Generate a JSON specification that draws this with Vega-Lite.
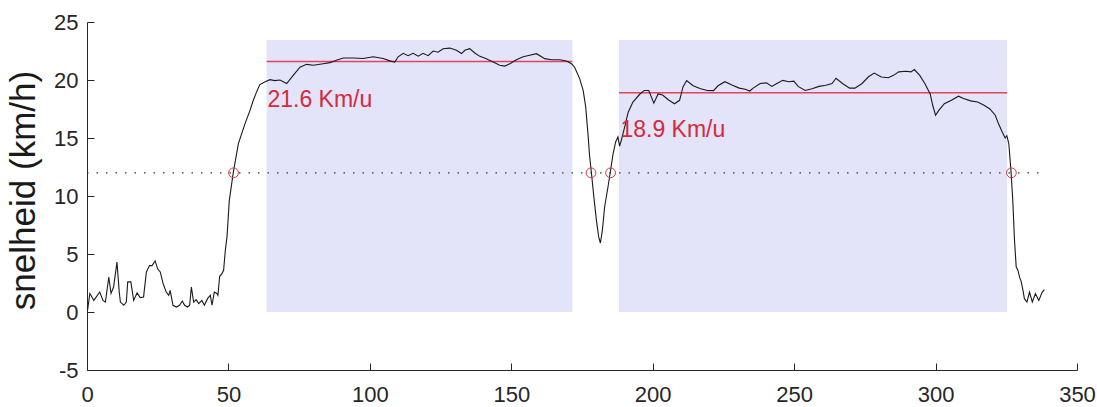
{
  "$schema": "https://vega.github.io/schema/vega-lite/v6.json",
  "width": 990,
  "height": 348,
  "autosize": {"type": "none"},
  "padding": {"left": 87, "top": 22, "right": 20, "bottom": 37},
  "background": "white",
  "config": {
    "view": {"stroke": null},
    "font": "Liberation Sans",
    "axis": {
      "grid": false,
      "domainColor": "#262626",
      "tickColor": "#262626",
      "labelColor": "#262626",
      "labelFont": "Liberation Sans",
      "labelFontSize": 22,
      "tickSize": -7,
      "domainWidth": 1,
      "tickWidth": 1,
      "labelFlush": false,
      "labelExpr": "'' + datum.value"
    }
  },
  "datasets": {
    "speed": [
      {"t":0.2,"v":0.15},{"t":1.0,"v":1.6},{"t":1.4,"v":1.45},{"t":2.4,"v":1.0},{"t":3.3,"v":1.3},{"t":4.5,"v":1.72},{"t":5.65,"v":1.0},{"t":6.5,"v":0.85},{"t":7.7,"v":3.0},{"t":8.5,"v":1.6},{"t":9.4,"v":2.15},{"t":10.6,"v":4.3},{"t":11.4,"v":1.72},{"t":11.8,"v":0.86},{"t":13.0,"v":0.58},{"t":13.9,"v":0.86},{"t":14.4,"v":2.6},{"t":15.5,"v":2.6},{"t":16.5,"v":1.0},{"t":17.7,"v":1.64},{"t":18.8,"v":1.24},{"t":20.0,"v":1.3},{"t":21.0,"v":3.45},{"t":22.1,"v":4.0},{"t":23.0,"v":4.0},{"t":24.1,"v":4.4},{"t":25.0,"v":3.7},{"t":25.9,"v":3.45},{"t":26.9,"v":2.45},{"t":28.0,"v":1.72},{"t":28.9,"v":1.44},{"t":29.4,"v":1.87},{"t":30.4,"v":0.58},{"t":31.6,"v":0.43},{"t":32.7,"v":0.58},{"t":33.7,"v":0.95},{"t":34.5,"v":0.58},{"t":35.6,"v":0.43},{"t":36.3,"v":0.58},{"t":36.9,"v":2.15},{"t":37.7,"v":0.86},{"t":38.6,"v":1.07},{"t":39.5,"v":0.72},{"t":40.6,"v":1.0},{"t":41.5,"v":0.58},{"t":42.6,"v":1.15},{"t":43.6,"v":1.44},{"t":44.2,"v":0.58},{"t":45.0,"v":1.72},{"t":45.9,"v":1.6},{"t":46.3,"v":1.44},{"t":46.9,"v":3.08},{"t":47.7,"v":3.3},{"t":48.3,"v":3.6},{"t":48.9,"v":5.3},{"t":49.5,"v":6.5},{"t":50.3,"v":9.6},{"t":51.7,"v":12.0},{"t":53.5,"v":14.5},{"t":55.8,"v":16.2},{"t":57.5,"v":17.3},{"t":58.8,"v":18.25},{"t":60.0,"v":19.0},{"t":61.1,"v":19.6},{"t":63.0,"v":19.85},{"t":64.7,"v":20.03},{"t":66.4,"v":19.95},{"t":68.2,"v":20.0},{"t":70.6,"v":19.7},{"t":72.9,"v":20.4},{"t":75.3,"v":21.1},{"t":77.6,"v":21.35},{"t":80.0,"v":21.27},{"t":83.5,"v":21.4},{"t":85.9,"v":21.5},{"t":88.2,"v":21.7},{"t":90.6,"v":21.9},{"t":94.1,"v":21.9},{"t":97.6,"v":21.85},{"t":101.2,"v":22.0},{"t":104.7,"v":21.85},{"t":107.1,"v":21.65},{"t":108.8,"v":21.55},{"t":110.0,"v":22.0},{"t":111.8,"v":22.3},{"t":113.5,"v":22.1},{"t":115.3,"v":22.3},{"t":117.1,"v":22.05},{"t":118.8,"v":22.3},{"t":120.6,"v":22.1},{"t":122.4,"v":22.5},{"t":124.1,"v":22.4},{"t":125.9,"v":22.7},{"t":128.3,"v":22.75},{"t":130.6,"v":22.56},{"t":132.4,"v":22.28},{"t":133.6,"v":22.56},{"t":135.3,"v":22.7},{"t":137.1,"v":22.33},{"t":138.9,"v":22.04},{"t":141.2,"v":21.84},{"t":143.6,"v":21.55},{"t":145.9,"v":21.27},{"t":147.7,"v":21.2},{"t":149.5,"v":21.4},{"t":151.8,"v":21.75},{"t":154.2,"v":22.0},{"t":156.5,"v":22.13},{"t":158.9,"v":22.27},{"t":160.7,"v":22.0},{"t":161.8,"v":21.84},{"t":164.2,"v":21.75},{"t":167.1,"v":21.75},{"t":169.5,"v":21.64},{"t":171.3,"v":21.4},{"t":172.4,"v":21.1},{"t":174.2,"v":20.1},{"t":175.4,"v":19.1},{"t":176.3,"v":17.7},{"t":177.1,"v":15.4},{"t":177.7,"v":13.4},{"t":178.3,"v":12.07},{"t":179.2,"v":9.9},{"t":180.1,"v":7.9},{"t":180.9,"v":6.47},{"t":181.5,"v":5.95},{"t":182.2,"v":7.04},{"t":183.0,"v":9.05},{"t":184.2,"v":10.8},{"t":185.0,"v":12.07},{"t":186.0,"v":13.65},{"t":186.9,"v":14.66},{"t":187.7,"v":15.1},{"t":188.3,"v":14.3},{"t":188.9,"v":14.8},{"t":190.1,"v":15.95},{"t":191.3,"v":17.2},{"t":193.0,"v":18.1},{"t":195.4,"v":18.77},{"t":197.0,"v":19.1},{"t":198.6,"v":19.1},{"t":200.4,"v":18.0},{"t":201.9,"v":18.8},{"t":203.5,"v":18.7},{"t":205.5,"v":18.3},{"t":207.7,"v":17.95},{"t":209.5,"v":18.25},{"t":210.7,"v":19.4},{"t":212.0,"v":19.95},{"t":214.3,"v":19.5},{"t":216.7,"v":19.26},{"t":219.2,"v":19.1},{"t":221.5,"v":19.08},{"t":223.1,"v":19.5},{"t":225.5,"v":19.85},{"t":228.2,"v":19.55},{"t":230.6,"v":19.3},{"t":232.7,"v":19.2},{"t":234.3,"v":19.05},{"t":235.5,"v":19.3},{"t":238.0,"v":19.7},{"t":240.2,"v":19.75},{"t":242.1,"v":19.45},{"t":243.9,"v":19.7},{"t":246.0,"v":19.97},{"t":248.1,"v":19.85},{"t":249.9,"v":19.9},{"t":251.4,"v":19.45},{"t":253.9,"v":19.1},{"t":256.3,"v":19.25},{"t":258.8,"v":19.45},{"t":261.2,"v":19.55},{"t":263.4,"v":19.7},{"t":264.8,"v":20.15},{"t":267.1,"v":19.7},{"t":269.6,"v":19.3},{"t":271.5,"v":19.3},{"t":274.0,"v":19.7},{"t":276.4,"v":20.3},{"t":278.3,"v":20.6},{"t":280.8,"v":20.26},{"t":283.3,"v":20.2},{"t":285.1,"v":20.4},{"t":287.0,"v":20.7},{"t":289.4,"v":20.75},{"t":291.3,"v":20.7},{"t":292.5,"v":20.9},{"t":294.4,"v":20.4},{"t":296.2,"v":19.7},{"t":298.1,"v":18.8},{"t":299.0,"v":17.8},{"t":300.0,"v":16.96},{"t":301.2,"v":17.4},{"t":303.1,"v":17.96},{"t":305.6,"v":18.25},{"t":308.1,"v":18.6},{"t":309.9,"v":18.4},{"t":312.4,"v":18.2},{"t":314.9,"v":18.1},{"t":317.3,"v":17.8},{"t":319.2,"v":17.5},{"t":321.1,"v":16.96},{"t":322.3,"v":16.2},{"t":323.6,"v":15.5},{"t":324.6,"v":15.0},{"t":325.2,"v":15.2},{"t":325.9,"v":14.5},{"t":326.7,"v":12.0},{"t":327.3,"v":9.6},{"t":327.9,"v":6.2},{"t":328.5,"v":3.9},{"t":329.1,"v":3.6},{"t":329.7,"v":3.0},{"t":330.3,"v":2.6},{"t":330.9,"v":1.87},{"t":331.4,"v":1.15},{"t":332.3,"v":0.86},{"t":333.2,"v":1.72},{"t":334.2,"v":0.86},{"t":335.3,"v":1.58},{"t":336.5,"v":1.0},{"t":337.7,"v":1.72},{"t":338.5,"v":1.93}
    ],
    "zones": [
      {"x1": 63.5, "x2": 171.6, "ybot": 0, "ytop": 23.45, "avg": 21.6, "lx": 63.8, "ly": 17.7, "label": "21.6 Km/u"},
      {"x1": 188.1, "x2": 325.3, "ybot": 0, "ytop": 23.45, "avg": 18.9, "lx": 188.6, "ly": 15.05, "label": "18.9 Km/u"}
    ],
    "threshold": [{"x1": 0, "x2": 337.5, "y": 12}],
    "cross": [{"t": 51.8, "v": 12}, {"t": 178.2, "v": 12}, {"t": 185.1, "v": 12}, {"t": 326.8, "v": 12}]
  },
  "layer": [
    {
      "data": {"name": "zones"},
      "mark": {"type": "rect", "color": "#e3e3f9"},
      "encoding": {
        "x": {"field": "x1", "type": "quantitative", "scale": {"domain": [0, 350], "nice": false}, "axis": {"values": [0, 50, 100, 150, 200, 250, 300, 350], "title": null, "labelPadding": 21}},
        "x2": {"field": "x2"},
        "y": {"field": "ybot", "type": "quantitative", "scale": {"domain": [-5, 25], "nice": false}, "axis": {"values": [-5, 0, 5, 10, 15, 20, 25], "title": "snelheid (km/h)", "titleFontSize": 35, "titleFontWeight": "normal", "titleColor": "#1a1a1a", "titleFont": "Liberation Sans", "labelPadding": 16, "titlePadding": 12, "titleY": 168}},
        "y2": {"field": "ytop"}
      }
    },
    {
      "data": {"name": "threshold"},
      "mark": {"type": "rule", "color": "#333333", "strokeWidth": 1.3, "strokeDash": [1.5, 8]},
      "encoding": {
        "x": {"field": "x1", "type": "quantitative"},
        "x2": {"field": "x2"},
        "y": {"field": "y", "type": "quantitative"}
      }
    },
    {
      "data": {"name": "zones"},
      "mark": {"type": "rule", "color": "#e2445a", "strokeWidth": 1.5},
      "encoding": {
        "x": {"field": "x1", "type": "quantitative"},
        "x2": {"field": "x2"},
        "y": {"field": "avg", "type": "quantitative"}
      }
    },
    {
      "data": {"name": "speed"},
      "mark": {"type": "line", "color": "#1a1a1a", "strokeWidth": 1.1},
      "encoding": {
        "x": {"field": "t", "type": "quantitative"},
        "y": {"field": "v", "type": "quantitative"}
      }
    },
    {
      "data": {"name": "cross"},
      "mark": {"type": "point", "shape": "circle", "filled": false, "color": "#cc3a45", "strokeWidth": 1, "size": 95, "opacity": 1},
      "encoding": {
        "x": {"field": "t", "type": "quantitative"},
        "y": {"field": "v", "type": "quantitative"}
      }
    },
    {
      "data": {"name": "zones"},
      "mark": {"type": "text", "align": "left", "baseline": "alphabetic", "color": "#d42a3a", "fontSize": 23, "font": "Liberation Sans"},
      "encoding": {
        "x": {"field": "lx", "type": "quantitative"},
        "y": {"field": "ly", "type": "quantitative"},
        "text": {"field": "label"}
      }
    }
  ]
}
